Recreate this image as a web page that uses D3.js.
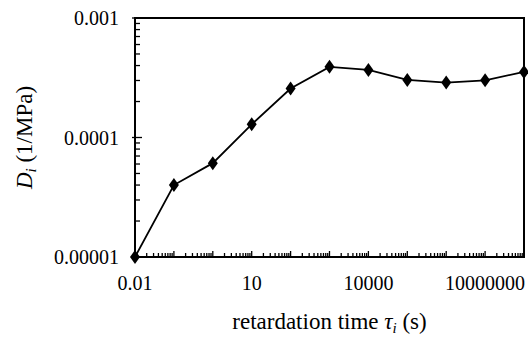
<!DOCTYPE html>
<html>
<head>
<meta charset="utf-8">
<script src="https://cdn.jsdelivr.net/npm/d3@7"></script>
<style>
  body { margin: 0; background: #fff; }
  text { font-family: "Liberation Serif", "Times New Roman", serif; fill: #000; }
</style>
</head>
<body>
<div id="chart"></div>
<script>
// retardation times (s) and compliances D_i (1/MPa)
const tau = [0.01, 0.1, 1, 10, 100, 1000, 1e4, 1e5, 1e6, 1e7, 1e8];
const compliance = [1e-5, 4.0e-5, 6.1e-5, 1.29e-4, 2.57e-4, 3.9e-4, 3.68e-4, 3.03e-4, 2.88e-4, 3.01e-4, 3.54e-4];
const xTicks = [0.01, 10, 10000, 10000000];
const xTickLabels = ["0.01", "10", "10000", "10000000"];
const yTicks = [0.00001, 0.0001, 0.001];
const yTickLabels = ["0.00001", "0.0001", "0.001"];

const W = 528, H = 343;
const margin = {top: 18, right: 4, bottom: 86, left: 135};
const width = W - margin.left - margin.right;
const height = H - margin.top - margin.bottom;

const svg = d3.select("#chart")
    .append("svg")
    .attr("width", W)
    .attr("height", H)
    .append("g")
    .attr("transform", `translate(${margin.left}, ${margin.top})`);

const x = d3.scaleLog()
    .domain([0.01, 1e8])
    .range([0, width]);

const y = d3.scaleLog()
    .domain([1e-5, 1e-3])
    .range([height, 0]);

// minor ticks (2..9 in every decade), pointing inward
const minorX = [];
for (let e = -2; e < 8; e++) for (let m = 2; m < 10; m++) minorX.push(m * Math.pow(10, e));
const minorY = [];
for (let e = -5; e < -3; e++) for (let m = 2; m < 10; m++) minorY.push(m * Math.pow(10, e));

svg.selectAll(".mx")
    .data(minorX)
    .join("line")
    .attr("x1", d => x(d)).attr("x2", d => x(d))
    .attr("y1", height).attr("y2", height - 4)
    .attr("stroke", "#000").attr("stroke-width", 1.3);

svg.selectAll(".my")
    .data(minorY)
    .join("line")
    .attr("y1", d => y(d)).attr("y2", d => y(d))
    .attr("x1", 0).attr("x2", 5)
    .attr("stroke", "#000").attr("stroke-width", 1.3);

// major ticks at every decade, a bit longer
svg.selectAll(".Mx")
    .data(x.ticks().filter(d => Math.abs(Math.log10(d) - Math.round(Math.log10(d))) < 1e-9))
    .join("line")
    .attr("x1", d => x(d)).attr("x2", d => x(d))
    .attr("y1", height).attr("y2", height - 6)
    .attr("stroke", "#000").attr("stroke-width", 1.3);

svg.selectAll(".My")
    .data(yTicks)
    .join("line")
    .attr("y1", d => y(d)).attr("y2", d => y(d))
    .attr("x1", -3).attr("x2", 7)
    .attr("stroke", "#000").attr("stroke-width", 1.3);

// frame
svg.append("rect")
    .attr("x", 0).attr("y", 0)
    .attr("width", width).attr("height", height)
    .attr("fill", "none")
    .attr("stroke", "#000")
    .attr("stroke-width", 2);

// tick labels
svg.selectAll(".xl")
    .data(xTicks)
    .join("text")
    .attr("x", d => x(d))
    .attr("y", height + 33)
    .attr("text-anchor", "middle")
    .style("font-size", "20px")
    .text((d, i) => xTickLabels[i]);

svg.selectAll(".yl")
    .data(yTicks)
    .join("text")
    .attr("x", -16)
    .attr("y", d => y(d) + 7)
    .attr("text-anchor", "end")
    .style("font-size", "20px")
    .text((d, i) => yTickLabels[i]);

// axis titles
const xt = svg.append("text")
    .attr("x", width / 2)
    .attr("y", height + 72)
    .attr("text-anchor", "middle")
    .style("font-size", "23px");
xt.append("tspan").text("retardation time ");
xt.append("tspan").style("font-style", "italic").text("τ");
xt.append("tspan").attr("dy", 4).style("font-size", "15px").style("font-style", "italic").text("i");
xt.append("tspan").attr("dy", -4).text(" (s)");

const yt = svg.append("text")
    .attr("transform", `translate(${-margin.left + 32}, ${height / 2}) rotate(-90)`)
    .attr("text-anchor", "middle")
    .style("font-size", "23px");
yt.append("tspan").style("font-style", "italic").text("D");
yt.append("tspan").attr("dy", 4).style("font-size", "15px").style("font-style", "italic").text("i");
yt.append("tspan").attr("dy", -4).text(" (1/MPa)");

// line
const line = d3.line()
    .x((d, i) => x(tau[i]))
    .y(d => y(d));

svg.append("path")
    .datum(compliance)
    .attr("fill", "none")
    .attr("stroke", "#000")
    .attr("stroke-width", 1.8)
    .attr("d", line);

// diamond markers
svg.selectAll(".pt")
    .data(compliance)
    .join("path")
    .attr("transform", (d, i) => `translate(${x(tau[i])}, ${y(d)})`)
    .attr("d", "M0,-7L5,0L0,7L-5,0Z")
    .attr("fill", "#000");
</script>
</body>
</html>
